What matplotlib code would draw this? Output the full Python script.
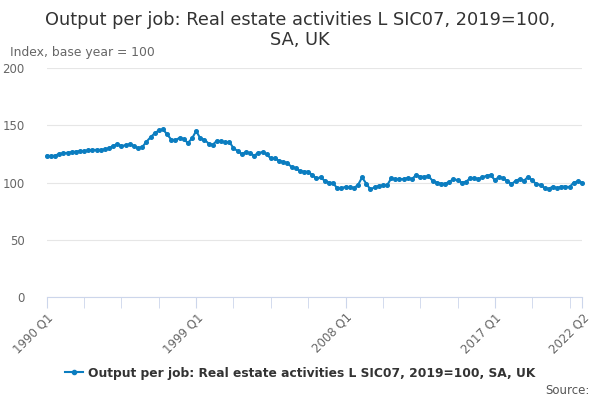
import matplotlib
matplotlib.use("Agg")
import matplotlib.pyplot as plt
from matplotlib.lines import Line2D

quarters = [f"{y} Q{q}" for y in range(1990, 2023) for q in range(1, 5)][:130]
values = [
    123.5, 123, 123.5, 125, 125.5, 126, 126.5, 127, 127.5, 127.5,
    128, 128.5, 128.5, 128.5, 129, 130, 132, 133.5, 132, 132.5,
    133.5, 132, 130, 131, 135.5, 139.5, 143, 145.5, 146.5, 142,
    137.5, 137, 139, 138, 134.5, 138.5, 145, 138.5, 137.5, 134,
    133, 136.5, 136, 135, 135.5, 130, 127.5, 125, 126.5, 125.5,
    123.5, 126, 126.5, 124.5, 121, 121, 119, 118, 117, 113.5,
    112.5, 110, 109.5, 109.5, 106.5, 103.5, 104.5, 101.5, 100, 99.5,
    95, 95, 96.3, 95.8, 95.2, 97.8, 104.5, 99, 94, 95.8,
    97, 97.5, 97.5, 103.5, 103, 103, 103, 104, 103, 106.5,
    105.2, 105, 105.5, 101.5, 100, 99, 99, 100.5, 103, 102,
    100, 100.6, 103.5, 104, 103, 104.5, 106, 106.5, 102, 105,
    103.5, 101.5, 98.5, 101.5, 103, 101.5, 105, 102, 98.5, 98,
    95, 94.5, 96.5, 95, 96.5, 96.5, 96, 100, 101, 100,
]
tick_labels = ["1990 Q1", "1999 Q1", "2008 Q1", "2017 Q1", "2022 Q2"]
y_ticks = [0, 50, 100, 150, 200]
series_name = "Output per job: Real estate activities L SIC07, 2019=100, SA, UK"
title_lines = ["Output per job: Real estate activities L SIC07, 2019=100,", "SA, UK"]
color = "#0b7dc0"
axis_color = "#ccd6eb"

plt.rcParams['font.family'] = ['DejaVu Sans']
fig = plt.figure(figsize=(6, 4), dpi=100)
ax = fig.add_axes([0.078, 0.2575, 0.892, 0.5725])

x = list(range(len(values)))
ax.plot(x, values, color=color, lw=1.5, marker='o', ms=2.6, zorder=3, clip_on=False)

ax.set_ylim(0, 200)
ax.set_xlim(0, len(values) - 1)
ax.set_yticks(y_ticks)
ax.set_yticklabels([str(v) for v in y_ticks], color="#666666", fontsize=8.5)
ax.tick_params(axis='y', length=0, pad=16)
ax.grid(axis='y', color="#e6e6e6", lw=0.8)
ax.set_axisbelow(True)

tpos = [quarters.index(t) for t in tick_labels]
ax.set_xticks(tpos)
ax.set_xticklabels(tick_labels, rotation=45, ha='right', rotation_mode='anchor',
                   color="#666666", fontsize=8.5)
ax.tick_params(axis='x', which='major', length=8, color=axis_color, pad=2)
minor = [i for i in range(0, len(values), 9) if i not in tpos]
ax.set_xticks(minor, minor=True)
ax.tick_params(axis='x', which='minor', length=8, color=axis_color)

for s in ['top', 'right', 'left']:
    ax.spines[s].set_visible(False)
ax.spines['bottom'].set_color(axis_color)

fig.text(0.5, 0.95, title_lines[0], ha='center', va='center', fontsize=12.8, color="#333333")
fig.text(0.5, 0.901, title_lines[1], ha='center', va='center', fontsize=12.8, color="#333333")
fig.text(0.017, 0.869, "Index, base year = 100", ha='left', va='center', fontsize=8.9,
         color="#666666")

handle = Line2D([0], [0], color=color, lw=1.5, marker='o', ms=3)
leg = fig.legend([handle], [series_name], loc='center', bbox_to_anchor=(0.5, 0.067),
                 frameon=False, prop={'weight': 'bold', 'size': 8.85}, handlelength=1.5,
                 handletextpad=0.4)
for t in leg.get_texts():
    t.set_color("#333333")
fig.text(0.983, 0.025, "Source:", ha='right', va='center', fontsize=8.5, color="#555555")

fig.savefig("out.png", dpi=100)
